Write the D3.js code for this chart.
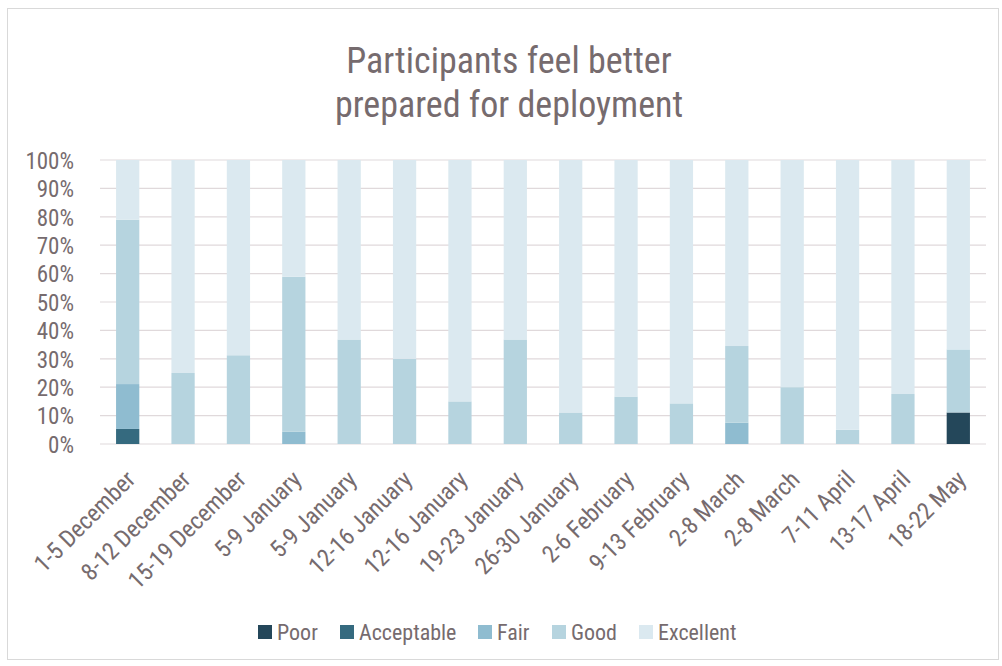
<!DOCTYPE html>
<html><head><meta charset="utf-8">
<script src="https://cdn.jsdelivr.net/npm/d3@7"></script>
<style>
html,body{margin:0;padding:0;background:#fff;}
svg text{font-family:"Roboto Condensed","Liberation Sans Narrow",Roboto,sans-serif;fill:#766b6e;}
</style></head>
<body><svg id="c" width="1002" height="666"></svg>
<script>
const categories = ["1-5 December","8-12 December","15-19 December","5-9 January","5-9 January","12-16 January","12-16 January","19-23 January","26-30 January","2-6 February","9-13 February","2-8 March","2-8 March","7-11 April","13-17 April","18-22 May"];
const seriesNames = ["Poor","Acceptable","Fair","Good","Excellent"];
const poor       = [0,   0, 0,    0,   0,    0,  0,  0,    0,    0,    0,    0,   0,  0,  0,    11.1];
const acceptable = [5.3, 0, 0,    0,   0,    0,  0,  0,    0,    0,    0,    0,   0,  0,  0,    0];
const fair       = [15.8,0, 0,    4.3, 0,    0,  0,  0,    0,    0,    0,    7.5, 0,  0,  0,    0];
const good       = [57.9,25,31.25,54.6,36.8, 30, 15, 36.8, 11.1, 16.7, 14.3, 27,  20, 5,  17.6, 22.2];
const excellent  = [21.0,75,68.75,41.1,63.2, 70, 85, 63.2, 88.9, 83.3, 85.7, 65.5,80, 95, 82.4, 66.7];
const yTicks = [0,10,20,30,40,50,60,70,80,90,100];
const colors = ["#24475a","#356a7f","#8fbcd0","#b6d4df","#dbe9f0"];

const svg = d3.select("#c");
svg.append("rect").attr("x",7.5).attr("y",8.5).attr("width",991).attr("height",651)
  .attr("fill","#fff").attr("stroke","#d9d9d9");

const x = d3.scaleBand().domain(d3.range(categories.length)).range([100,986]).paddingInner(0.58).paddingOuter(0.29);
const y = d3.scaleLinear().domain([0,100]).range([444,160]);

// gridlines
svg.append("g").selectAll("line").data(yTicks).join("line")
  .attr("x1",100).attr("x2",986).attr("y1",d=>y(d)).attr("y2",d=>y(d))
  .attr("stroke","#e0d9db").attr("stroke-width",1.2);

// stacked
const rows = categories.map((c,i)=>({i, Poor:poor[i],Acceptable:acceptable[i],Fair:fair[i],Good:good[i],Excellent:excellent[i]}));
const stack = d3.stack().keys(seriesNames)(rows);
const cs = d3.scaleOrdinal().domain(seriesNames).range(colors);
svg.append("g").selectAll("g").data(stack).join("g").attr("fill",d=>cs(d.key))
  .selectAll("rect").data(d=>d).join("rect")
  .attr("x",d=>x(d.data.i)).attr("width",x.bandwidth())
  .attr("y",d=>y(d[1])).attr("height",d=>y(d[0])-y(d[1]));

// y axis labels
const ya = svg.append("g").attr("transform","translate(74,0)").call(d3.axisLeft(y).tickValues(yTicks).tickFormat(d=>d+"%").tickSize(0).tickPadding(0));
ya.select(".domain").remove();
ya.attr("font-family",null).attr("font-size",null);
ya.selectAll("text").attr("font-size",23).attr("dy","0.36em");

// x axis labels
const xa = svg.append("g").attr("transform","translate(0,444)").call(d3.axisBottom(x).tickFormat(i=>categories[i]).tickSize(0).tickPadding(0));
xa.select(".domain").remove();
xa.attr("font-family",null).attr("font-size",null);
xa.selectAll("text").attr("font-size",24).attr("text-anchor","end")
  .attr("transform","translate(3,31) rotate(-45)").attr("dy","0.35em").attr("y",0);

// title
const title = svg.append("text").attr("x",509).attr("text-anchor","middle").attr("font-size",36);
title.append("tspan").attr("x",509).attr("y",73).text("Participants feel better");
title.append("tspan").attr("x",509).attr("y",117).text("prepared for deployment");

// legend
const legX = [258,340,478,552,639];
const lg = svg.append("g").selectAll("g").data(seriesNames).join("g").attr("transform",(d,i)=>`translate(${legX[i]},625)`);
lg.append("rect").attr("width",14).attr("height",14).attr("fill",d=>cs(d));
lg.append("text").attr("x",19).attr("y",7.5).attr("dy","0.36em").attr("font-size",22).text(d=>d);
</script></body></html>
